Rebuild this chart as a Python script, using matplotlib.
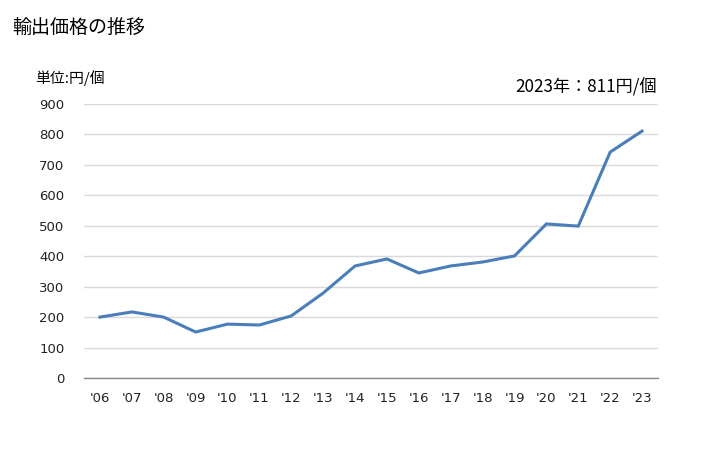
import matplotlib
matplotlib.use('Agg')
import matplotlib.pyplot as plt

plt.rcParams['font.family'] = ['Noto Sans CJK JP', 'DejaVu Sans']

# データ
years = ["'06", "'07", "'08", "'09", "'10", "'11", "'12", "'13", "'14",
         "'15", "'16", "'17", "'18", "'19", "'20", "'21", "'22", "'23"]
prices = [200, 217, 200, 151, 177, 174, 204, 279, 368,
          391, 345, 368, 381, 401, 506, 499, 742, 811]
y_ticks = [0, 100, 200, 300, 400, 500, 600, 700, 800, 900]

fig = plt.figure(figsize=(7.28, 4.5), dpi=100)
ax = fig.add_axes([84 / 728, 1 - 378 / 450, 574 / 728, 274 / 450])

x = list(range(len(years)))
ax.plot(x, prices, color='#4a7ebb', linewidth=2.2, solid_joinstyle='miter')

ax.set_xlim(-0.5, len(years) - 0.5)
ax.set_ylim(0, 900)
ax.set_yticks(y_ticks)
ax.set_xticks(x)
ax.set_xticklabels(years, family='DejaVu Sans')
ax.tick_params(axis='both', length=0, labelsize=9.5, colors='#222222')
ax.tick_params(axis='y', pad=14)
ax.tick_params(axis='x', pad=10)
for lbl in ax.get_yticklabels():
    lbl.set_family('DejaVu Sans')

ax.grid(axis='y', color='#d9d9d9', linewidth=1)
ax.set_axisbelow(True)
for side in ['top', 'right', 'left']:
    ax.spines[side].set_visible(False)
ax.spines['bottom'].set_color('#888888')
ax.spines['bottom'].set_linewidth(1)

fig.text(12 / 728, 1 - 28 / 450, '輸出価格の推移', fontsize=13.7, va='center', ha='left')
fig.text(35 / 728, 1 - 78 / 450, '単位:円/個', fontsize=10.7, va='center', ha='left')
fig.text(657 / 728, 1 - 87 / 450, '2023年：811円/個', fontsize=12.3, va='center', ha='right')

fig.savefig('out.png', dpi=100)
